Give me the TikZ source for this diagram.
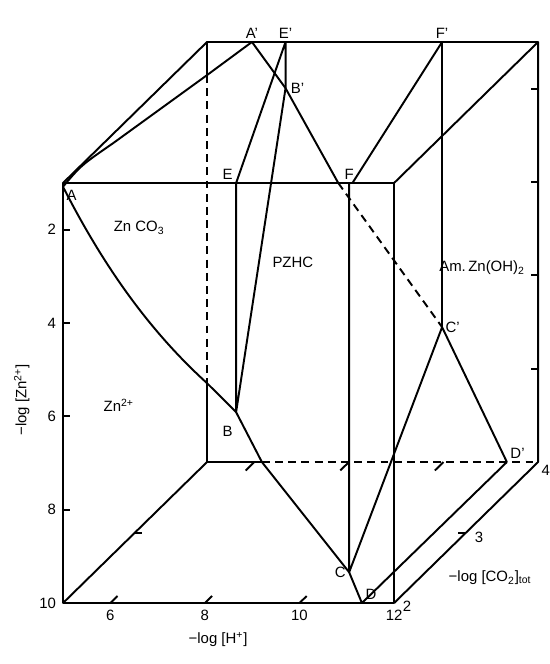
\documentclass[tikz,border=0pt]{standalone}
\usepackage{fontspec}
\setmainfont{Liberation Sans}
\usetikzlibrary{positioning}
\tikzset{
  hidden/.style={dash pattern=on 4.5pt off 3pt},
  region/.style={font=\fontsize{8.5}{10}\selectfont},
}
\begin{document}
\begin{tikzpicture}[x={(0.9458cm,0cm)}, y={(0cm,-0.9333cm)}, z={(1.44cm,1.41cm)},
    line width=1.1pt, line join=round,
    every node/.style={font=\fontsize{8.5}{10}\selectfont, inner sep=1.5pt}]
  \useasboundingbox (3.668,-2.921,2) rectangle (15.277,11.306,2);
  % box: (-log[H+], -log[Zn2+], -log[CO2]tot)
  \coordinate (P1) at (5,1,2);  \coordinate (P2) at (12,1,2);
  \coordinate (P3) at (12,10,2); \coordinate (P4) at (5,10,2);
  \coordinate (Q1) at (5,1,4);  \coordinate (Q2) at (12,1,4);
  \coordinate (Q3) at (12,10,4); \coordinate (Q4) at (5,10,4);
  % corners of the fields
  \coordinate (A) at (5,1.08,2);     \coordinate (Ap) at (5.95,1,4);
  \coordinate (B) at (8.66,5.91,2);  \coordinate (Bp) at (6.66,1.99,4);
  \coordinate (C) at (11.05,9.34,2); \coordinate (Cp) at (9.97,7.11,4);
  \coordinate (D) at (11.32,10,2);   \coordinate (Dp) at (11.34,10,4);
  \coordinate (E) at (8.66,1,2);     \coordinate (Ep) at (6.66,1,4);
  \coordinate (F) at (11.05,1,2);    \coordinate (Fp) at (9.97,1,4);
  \coordinate (G) at (5,1.71,4); \coordinate (H) at (5,8.31,4);
  \coordinate (K) at (6.16,10,4);
  \coordinate (L) at (10.82,1,2); \coordinate (M) at (11.12,1,2);

  % the box
  \draw (P1)--(P2)--(P3)--(P4)--cycle;
  \draw (P1)--(Q1)--(Q2)--(Q3) (P2)--(Q2) (P3)--(Q3) (P4)--(Q4)--(K);
  \draw (Q1)--(G) (H)--(Q4);
  \draw[hidden] (G)--(H) (K)--(Q3);

  % field boundaries
  \draw (A) .. controls (5,1.0,2.25) .. (5,1.2,2.7) -- (G) -- (Ap) -- (Bp);
  \draw (A) .. controls (5.95,2.97,2) and (6.95,4.28,2) .. (H) -- (B) -- (K) -- (C) -- (D) -- (Dp);
  \draw (E) -- (B) -- (Bp) -- (Ep) -- (E);
  \draw (Bp) -- (L);
  \draw[hidden] (L) -- (Cp);
  \draw (Fp) -- (M);
  \draw (F) -- (C) -- (Cp) -- (Dp);
  \draw (Fp) -- (Cp);

  % ticks
  \foreach \p in {2,4,6,8} {
    \draw (5,\p,2) -- ++(0.15,0,0);
    \draw (12,\p,4) -- ++(-0.15,0,0);
  }
  \foreach \h in {6,8,10} {
    \draw (\h,10,2) -- ++(0,0,0.1);
    \draw (\h,10,4) -- ++(0,0,-0.12);
  }
  \draw (5,10,3) -- ++(0.15,0,0);
  \draw (12,10,3) -- ++(-0.18,0,0);

  % tick labels
  \foreach \p in {2,4,6,8,10}
    \node[left=2pt] (yl\p) at (5,\p,2) {\p};
  \foreach \h in {6,8,10,12}
    \node[below=2pt] (xl\h) at (\h,10,2) {\h};
  \node[right=3pt, yshift=-2pt] (zl2) at (P3) {2};
  \node[right=3pt, yshift=-3pt] (zl3) at (12,10,3) {3};
  \node[below right] (zl4) at (Q3) {4};

  % point labels
  \node[below right] (lA) at (A) {A};
  \node[above] (lAp) at (Ap) {A'};
  \node[below left=6pt and 0pt] (lB) at (B) {B};
  \node[right=1pt] (lBp) at (Bp) {B'};
  \node[left] (lC) at (C) {C};
  \node[right] (lCp) at (Cp) {C'};
  \node[above right] (lD) at (D) {D};
  \node[above right] (lDp) at (Dp) {D'};
  \node[above left] (lE) at (E) {E};
  \node[above] (lEp) at (Ep) {E'};
  \node[above] (lF) at (F) {F};
  \node[above] (lFp) at (Fp) {F'};

  % fields
  \node[region] (znco) at (6.61,1.96,2) {Zn CO\textsubscript{3}};
  \node[region] (pzhc) at (9.86,2.71,2) {PZHC};
  \node[region] (amzn) at (13.86,2.82,2) {Am.\,Zn(OH)\textsubscript{2}};
  \node[region] (zn) at (6.18,5.76,2) {Zn\textsuperscript{2+}};

  % axis titles
  \node[rotate=90] (ttlz) at (4.13,5.65,2) {−log [Zn\textsuperscript{2+}]};
  \node (ttlh) at (8.28,10.79,2) {−log [H\textsuperscript{+}]};
  \node (ttlc) at (14.03,9.46,2) {−log [CO\textsubscript{2}]\textsubscript{tot}};
\end{tikzpicture}
\end{document}
